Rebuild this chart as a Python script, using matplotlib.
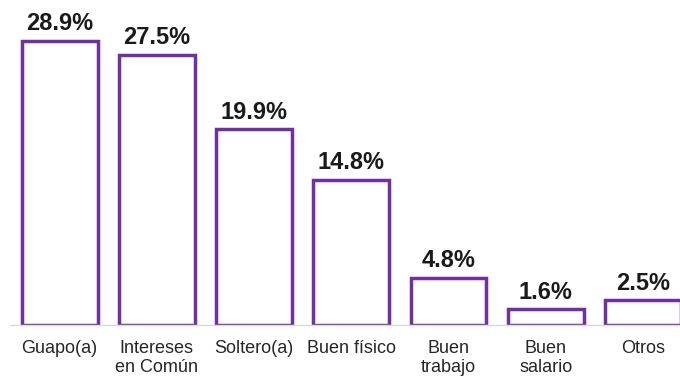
import matplotlib.pyplot as plt

plt.rcParams['font.family'] = ['Liberation Sans', 'DejaVu Sans']

# data
categories = ['Guapo(a)', 'Intereses\nen Común', 'Soltero(a)', 'Buen físico',
              'Buen\ntrabajo', 'Buen\nsalario', 'Otros']
values = [28.9, 27.5, 19.9, 14.8, 4.8, 1.6, 2.5]

fig = plt.figure(figsize=(6.8, 3.76), dpi=100)
ax = fig.add_axes([10 / 680, 51 / 376, 670 / 680, 325 / 376])

x = range(len(categories))
bars = ax.bar(x, values, width=0.78, color='white', edgecolor='#7030A0', linewidth=2.5)

# value labels above bars
for xi, v in zip(x, values):
    ax.annotate(f'{v}%', (xi, v), xytext=(0, 4), textcoords='offset points',
                ha='center', va='bottom', fontsize=17, fontweight='bold', color='#1a1a1a')

ax.set_xlim(-0.51, 6.38)
ax.set_ylim(0, 33.06)
ax.set_xticks(list(x))
ax.set_xticklabels(categories, fontsize=13, color='#262626', linespacing=1.1)
ax.tick_params(axis='x', length=0, pad=11)
ax.set_yticks([])

for side in ['top', 'right', 'left']:
    ax.spines[side].set_visible(False)
ax.spines['bottom'].set_color('#d9d9d9')
ax.spines['bottom'].set_linewidth(1)

fig.savefig('out.png', dpi=100)
